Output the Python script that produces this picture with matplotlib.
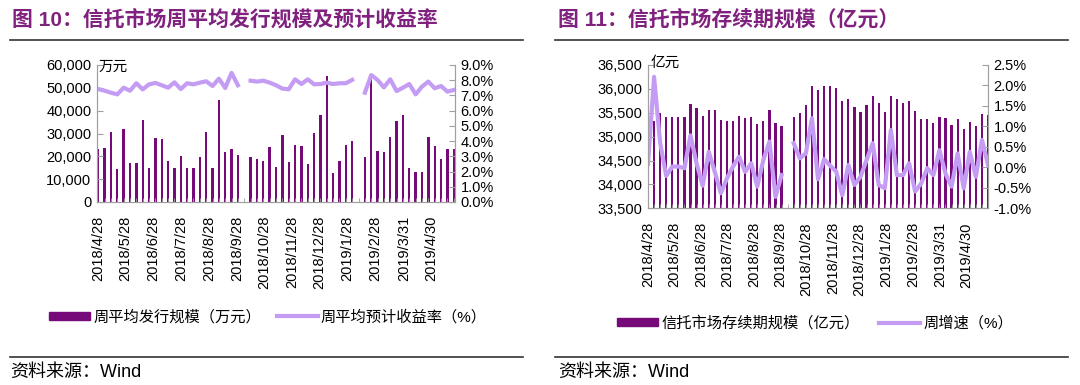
import numpy as np
import pandas as pd
import matplotlib
matplotlib.use("Agg")
import matplotlib.pyplot as plt
from matplotlib.patches import Patch
from matplotlib.lines import Line2D
from matplotlib.ticker import FuncFormatter, FixedLocator

plt.rcParams['font.family'] = ['Liberation Sans', 'Noto Sans CJK SC', 'DejaVu Sans']

# weekly data, 57 weeks starting 2018/4/28 (nan = no data that week)
start = "2018-04-28"
n_weeks = 57
tick_dates = ["2018/4/28", "2018/5/28", "2018/6/28", "2018/7/28", "2018/8/28", "2018/9/28",
              "2018/10/28", "2018/11/28", "2018/12/28", "2019/1/28", "2019/2/28",
              "2019/3/31", "2019/4/30"]

issue_scale = [23200, 23500, 30800, 14300, 31900, 17000, 17000, 36000, 15000, 27900,
               27800, 18000, 14800, 20300, 15000, 15000, 19700, 30600, 14800, 44700,
               22000, 23100, 20400, np.nan, 19600, 18800, 17900, 24000, 15500, 29200,
               17400, 24900, 24700, 16500, 30300, 38000, 55100, 12600, 18100, 24900,
               26500, np.nan, 19600, 55700, 22400, 21900, 28600, 35500, 37900, 14800,
               13200, 13200, 28600, 24400, 18900, 23100, 23200]
exp_yield = [7.42, 7.31, 7.18, 7.07, 7.51, 7.31, 7.80, 7.40, 7.73, 7.82,
             7.67, 7.51, 7.86, 7.42, 7.80, 7.73, 7.84, 7.93, 7.62, 8.10,
             7.49, 8.48, 7.67, np.nan, 7.97, 7.91, 7.97, 7.84, 7.67, 7.45,
             7.40, 8.06, 7.75, 8.06, 7.73, 7.75, 7.84, 7.75, 7.80, 7.80,
             8.02, np.nan, 7.18, 8.34, 8.02, 7.53, 8.06, 7.29, 7.51, 7.75,
             7.07, 7.58, 7.91, 7.47, 7.62, 7.25, 7.36]

outstanding = [34550, 35333, 35487, 35404, 35404, 35404, 35404, 35682, 35592, 35431,
               35557, 35557, 35347, 35326, 35326, 35431, 35383, 35410, 35260, 35330,
               35557, 35291, 35222, np.nan, 35417, 35487, 35661, 36065, 35968, 36059,
               36062, 36023, 35751, 35780, 35613, 35521, 35654, 35849, 35710, 35521,
               35849, 35780, 35710, 35745, 35536, 35369, 35362, 35278, 35417, 35396,
               35243, 35369, 35159, 35312, 35222, 35466, 35452]
weekly_growth = [0.08, 2.21, 0.60, -0.21, 0.02, 0.02, -0.02, 0.78, 0.10, -0.45,
                 0.38, -0.11, -0.63, -0.27, 0.02, 0.26, -0.11, 0.10, -0.47, 0.18,
                 0.63, -0.72, -0.19, np.nan, 0.59, 0.22, 0.34, 1.20, -0.29, 0.20,
                 0.04, -0.10, -0.68, 0.06, -0.43, -0.23, 0.18, 0.59, -0.43, -0.51,
                 0.91, -0.19, -0.19, 0.10, -0.59, -0.39, -0.02, -0.19, 0.42, -0.15,
                 -0.47, 0.34, -0.51, 0.38, -0.23, 0.67, 0.06]

bar_color = '#760a78'
line_color = '#c59cf3'
title_color = '#80207f'
spine_color = '#a0a0a0'
fs = 10.5

t0 = pd.Timestamp(start)
x = np.arange(n_weeks) * 7
tick_pos = [(pd.Timestamp(d.replace('/', '-')) - t0).days for d in tick_dates]

fig = plt.figure(figsize=(10.8, 3.85), dpi=100)


def style_axes(ax, ax2, xlim):
    ax.set_xlim(*xlim)
    for a in (ax, ax2):
        a.spines['top'].set_visible(False)
        for s in ('left', 'right', 'bottom'):
            a.spines[s].set_color(spine_color)
        a.tick_params(axis='y', direction='in', length=4, color=spine_color,
                      labelsize=fs, pad=4)
    ax.set_xticks(tick_pos)
    ax.set_xticklabels(tick_dates, rotation=90, fontsize=fs)
    ax.tick_params(axis='x', which='major', length=0, pad=10)
    ax.xaxis.set_minor_locator(FixedLocator(x))
    ax.tick_params(axis='x', which='minor', direction='in', length=3, color=spine_color)


# ---------- left chart ----------
ax1 = fig.add_axes([97 / 1080, 1 - 202 / 385, 358 / 1080, 137 / 385])
ax1.bar(x, issue_scale, width=2.6, color=bar_color)
ax1.set_ylim(0, 60000)
ax1.set_yticks(np.arange(0, 60001, 10000))
ax1.yaxis.set_major_formatter(FuncFormatter(lambda v, p: f"{v:,.0f}"))
ax1b = ax1.twinx()
ax1b.plot(x, exp_yield, color=line_color, lw=3, solid_joinstyle='round')
ax1b.set_ylim(0, 9)
ax1b.set_yticks(np.arange(0, 9.01, 1))
ax1b.yaxis.set_major_formatter(FuncFormatter(lambda v, p: f"{v:.1f}%"))
style_axes(ax1, ax1b, (-1.4, 393.4))
fig.text(99 / 1080, 1 - 67 / 385, '万元', fontsize=fs, va='center', ha='left')

ax1.legend(handles=[Patch(color=bar_color, label='周平均发行规模（万元）'),
                    Line2D([], [], color=line_color, lw=3, label='周平均预计收益率（%）')],
           loc='center', bbox_to_anchor=(268 / 1080, 1 - 317 / 385),
           bbox_transform=fig.transFigure, ncol=2, frameon=False, fontsize=11,
           handlelength=2.7, handleheight=0.5, handletextpad=0.2, columnspacing=1.0)

# ---------- right chart ----------
ax2 = fig.add_axes([648 / 1080, 1 - 208.3 / 385, 340 / 1080, 143.3 / 385])
ax2.bar(x, outstanding, width=2.6, color=bar_color)
ax2.set_ylim(33500, 36500)
ax2.set_yticks(np.arange(33500, 36501, 500))
ax2.yaxis.set_major_formatter(FuncFormatter(lambda v, p: f"{v:,.0f}"))
ax2b = ax2.twinx()
ax2b.plot(x, weekly_growth, color=line_color, lw=3, solid_joinstyle='round')
ax2b.set_ylim(-1.0, 2.5)
ax2b.set_yticks(np.arange(-1.0, 2.51, 0.5))
ax2b.yaxis.set_major_formatter(FuncFormatter(lambda v, p: f"{v:.1f}%"))
style_axes(ax2, ax2b, (0, 392))
fig.text(651 / 1080, 1 - 63 / 385, '亿元', fontsize=fs, va='center', ha='left')

ax2.legend(handles=[Patch(color=bar_color, label='信托市场存续期规模（亿元）'),
                    Line2D([], [], color=line_color, lw=3, label='周增速（%）')],
           loc='center', bbox_to_anchor=(815 / 1080, 1 - 323 / 385),
           bbox_transform=fig.transFigure, ncol=2, frameon=False, fontsize=11,
           handlelength=2.7, handleheight=0.5, handletextpad=0.2, columnspacing=1.3)

# ---------- titles, rules, source ----------
fig.text(12 / 1080, 1 - 19 / 385, '图 10：信托市场周平均发行规模及预计收益率',
         fontsize=15, fontweight='bold', color=title_color, va='center')
fig.text(558 / 1080, 1 - 19 / 385, '图 11：信托市场存续期规模（亿元）',
         fontsize=15, fontweight='bold', color=title_color, va='center')
for x0, x1 in ((10, 523), (555, 1068)):
    for yy in (40, 357):
        fig.add_artist(Line2D([x0 / 1080, x1 / 1080], [1 - yy / 385, 1 - yy / 385],
                              color='#333333', lw=1.2, transform=fig.transFigure))
fig.text(10 / 1080, 1 - 372 / 385, '资料来源：Wind', fontsize=13, va='center')
fig.text(558 / 1080, 1 - 372 / 385, '资料来源：Wind', fontsize=13, va='center')

fig.savefig('out.png', dpi=100)
